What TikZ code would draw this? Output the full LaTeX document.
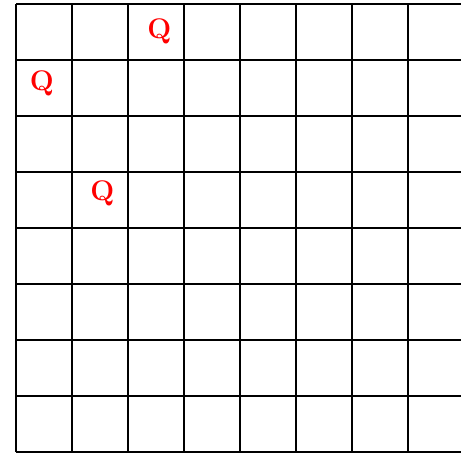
\documentclass[tikz,border=0pt]{standalone}
\usepackage{amsmath,amssymb}
\usepackage{tikz}

\begin{document}
\begin{tikzpicture}[x=1cm,y=1cm]
\useasboundingbox (-0.2857,0) rectangle (7.946,8.0714);
\clip (-0.2857,0) rectangle (7.946,8.0714);
\tikzset{queen/.style={text=red,font=\Large\bfseries,inner sep=0pt}}
\draw[line width=0.9pt] (0,0) grid (8,8);
\node[queen] (qa) at (2.56,7.52) {Q};
\node[queen] (qb) at (0.46,6.59) {Q};
\node[queen] (qc) at (1.54,4.61) {Q};
\end{tikzpicture}
\end{document}
